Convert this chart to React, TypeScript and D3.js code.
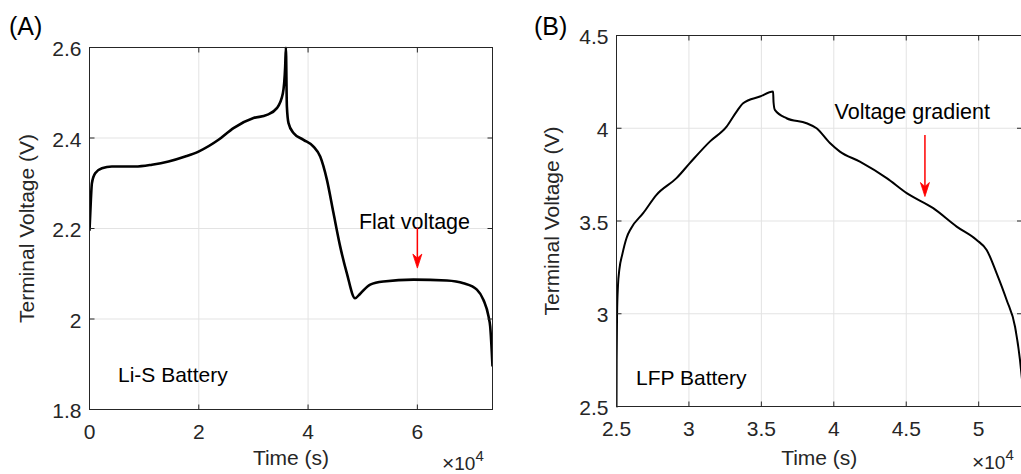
import React from "react";
import * as d3 from "d3";

// ---------- Data ----------
// Panel A: Li-S battery
const lisTime = [0, 250, 440, 1040, 2270, 4100, 8360, 11420, 14460, 17510, 19950, 23610, 26350, 30010, 32460, 34290, 35390, 35810, 35940, 36120, 36420, 37330, 39160, 40990, 42220, 43440, 44650, 45880, 47100, 48600, 49540, 51370, 53800, 59290, 65400, 68440, 70890, 72100, 73020, 73330, 73750];
const lisVolt = [2.195, 2.263, 2.30, 2.322, 2.333, 2.337, 2.337, 2.341, 2.348, 2.359, 2.370, 2.396, 2.422, 2.444, 2.451, 2.466, 2.499, 2.558, 2.60, 2.47, 2.433, 2.411, 2.396, 2.381, 2.359, 2.308, 2.234, 2.160, 2.101, 2.046, 2.056, 2.076, 2.083, 2.087, 2.085, 2.079, 2.065, 2.042, 2.006, 1.983, 1.895];

// Panel B: LFP battery
const lfpTime = [25000, 25010, 25040, 25100, 25200, 25400, 25700, 26000, 26840, 27760, 29140, 30060, 31440, 32600, 33290, 33740, 34900, 35810, 35840, 35930, 36740, 38120, 38810, 39730, 40420, 41800, 43650, 45030, 46860, 48480, 49860, 50550, 51240, 51930, 52510, 52850, 53000];
const lfpVolt = [2.48, 2.75, 3.0, 3.15, 3.24, 3.32, 3.41, 3.46, 3.542, 3.641, 3.731, 3.812, 3.928, 4.009, 4.09, 4.135, 4.171, 4.198, 4.14, 4.099, 4.054, 4.027, 4.0, 3.92, 3.874, 3.820, 3.731, 3.650, 3.569, 3.470, 3.398, 3.344, 3.218, 3.074, 2.930, 2.751, 2.64];

// Tick values
const lisXTicks = [0, 20000, 40000, 60000];
const lisYTicks = [1.8, 2.0, 2.2, 2.4, 2.6];
const lfpXTicks = [25000, 30000, 35000, 40000, 45000, 50000];
const lfpYTicks = [2.5, 3.0, 3.5, 4.0, 4.5];

// Annotations (data coordinates)
const lisNote = { text: "Flat voltage", tx: 49300, ty: 2.2, ax: 60000, ay0: 2.2016, ay1: 2.1125 };
const lfpNote = { text: "Voltage gradient", tx: 40050, ty: 4.05, ax: 46290, ay0: 3.964, ay1: 3.632 };

const FONT = "'Liberation Sans', Arial, Helvetica, sans-serif";
const AX = "#262626";
const GRID = "#e3e3e3";

type PanelProps = {
  id: string;
  label: string;
  battery: string;
  time: number[];
  volt: number[];
  xDomain: [number, number];
  yDomain: [number, number];
  xRange: [number, number];
  yRange: [number, number];
  xTicks: number[];
  yTicks: number[];
  note: typeof lisNote;
  labelX: number;
  ylabelX: number;
  expX: number;
  expY: number;
  strokeW: number;
  batteryX: number;
  batteryY: number;
};

function fmtY(v: number) {
  return d3.format("~g")(+v.toFixed(2));
}

function Panel(p: PanelProps) {
  const x = d3.scaleLinear().domain(p.xDomain).range(p.xRange);
  const y = d3.scaleLinear().domain(p.yDomain).range(p.yRange);
  const [x0, x1] = p.xRange;
  const [y1, y0] = p.yRange; // y1 bottom, y0 top
  const pts: [number, number][] = p.time.map((t, i) => [t, p.volt[i]]);
  const line = d3
    .line<[number, number]>()
    .x((d) => x(d[0]))
    .y((d) => y(d[1]))
    .curve(d3.curveMonotoneX);
  const tl = 5;
  const n = p.note;
  const tipY = y(n.ay1);
  const ax = x(n.ax);
  return (
    <g>
      <defs>
        <clipPath id={`clip-${p.id}`}>
          <rect x={x0} y={y0 - 1} width={x1 - x0} height={y1 - y0 + 2} />
        </clipPath>
      </defs>
      {/* grid */}
      {p.xTicks.filter((t) => x(t) > x0 + 1 && x(t) < x1 - 1).map((t) => (
        <line key={"gx" + t} x1={x(t)} x2={x(t)} y1={y0} y2={y1} stroke={GRID} strokeWidth={1} />
      ))}
      {p.yTicks.filter((t) => y(t) > y0 + 1 && y(t) < y1 - 1).map((t) => (
        <line key={"gy" + t} x1={x0} x2={x1} y1={y(t)} y2={y(t)} stroke={GRID} strokeWidth={1} />
      ))}
      {/* curve */}
      <path d={line(pts) || ""} fill="none" stroke="#000" strokeWidth={p.strokeW} strokeLinejoin="round" clipPath={`url(#clip-${p.id})`} />
      {/* box */}
      <rect x={x0} y={y0} width={x1 - x0} height={y1 - y0} fill="none" stroke={AX} strokeWidth={1} />
      {/* ticks */}
      {p.xTicks.map((t) => (
        <g key={"tx" + t}>
          <line x1={x(t)} x2={x(t)} y1={y1} y2={y1 - tl} stroke={AX} />
          <line x1={x(t)} x2={x(t)} y1={y0} y2={y0 + tl} stroke={AX} />
          <text x={x(t)} y={y1 + 29} textAnchor="middle" fontSize={21} fill={AX} fontFamily={FONT}>
            {fmtY(t / 10000)}
          </text>
        </g>
      ))}
      {p.yTicks.map((t) => (
        <g key={"ty" + t}>
          <line x1={x0} x2={x0 + tl} y1={y(t)} y2={y(t)} stroke={AX} />
          <line x1={x1} x2={x1 - tl} y1={y(t)} y2={y(t)} stroke={AX} />
          <text x={x0 - 8} y={y(t) + 8.5} textAnchor="end" fontSize={21} fill={AX} fontFamily={FONT}>
            {fmtY(t)}
          </text>
        </g>
      ))}
      {/* exponent */}
      <text x={p.expX} y={p.expY} fontSize={19} fill={AX} fontFamily={FONT}>
        <tspan fontSize={21}>×</tspan>
        <tspan>10</tspan>
        <tspan fontSize={15} dy={-9}>4</tspan>
      </text>
      {/* axis labels */}
      <text x={(x0 + x1) / 2} y={465} textAnchor="middle" fontSize={21} fill={AX} fontFamily={FONT}>
        Time (s)
      </text>
      <text
        transform={`translate(${p.ylabelX},${(y0 + y1) / 2}) rotate(-90)`}
        textAnchor="middle"
        fontSize={21}
        fill={AX}
        fontFamily={FONT}
      >
        Terminal Voltage (V)
      </text>
      {/* panel label */}
      <text x={p.labelX} y={35} fontSize={25} fill="#000" fontFamily={FONT}>
        {p.label}
      </text>
      {/* battery label */}
      <text x={p.batteryX} y={p.batteryY} fontSize={21} fill="#000" fontFamily={FONT}>
        {p.battery}
      </text>
      {/* annotation */}
      <text x={x(n.tx)} y={y(n.ty)} fontSize={21.5} fill="#000" fontFamily={FONT}>
        {n.text}
      </text>
      <line x1={ax} x2={ax} y1={y(n.ay0)} y2={tipY - 6} stroke="#ff0000" strokeWidth={1.5} />
      <path
        d={`M${ax},${tipY} L${ax - 4.5},${tipY - 14} L${ax},${tipY - 10} L${ax + 4.5},${tipY - 14} Z`}
        fill="#ff0000"
        stroke="#ff0000"
        strokeWidth={0.8}
      />
    </g>
  );
}

export default function App() {
  return (
    <svg
      width={1021}
      height={474}
      style={{ position: "absolute", left: 0, top: 0, background: "#fff", display: "block" }}
    >
      <rect x={0} y={0} width={1021} height={474} fill="#fff" />
      <Panel
        id="a"
        label="(A)"
        battery="Li-S Battery"
        time={lisTime}
        volt={lisVolt}
        xDomain={[0, 73750]}
        yDomain={[1.8, 2.6]}
        xRange={[89.5, 492.5]}
        yRange={[409.5, 47.5]}
        xTicks={lisXTicks}
        yTicks={lisYTicks}
        note={lisNote}
        labelX={9}
        ylabelX={34}
        expX={442}
        expY={470}
        strokeW={2.6}
        batteryX={118}
        batteryY={382}
      />
      <Panel
        id="b"
        label="(B)"
        battery="LFP Battery"
        time={lfpTime}
        volt={lfpVolt}
        xDomain={[25000, 52990]}
        yDomain={[2.5, 4.5]}
        xRange={[616.5, 1022]}
        yRange={[406.5, 35.5]}
        xTicks={lfpXTicks}
        yTicks={lfpYTicks}
        note={lfpNote}
        labelX={534}
        ylabelX={559}
        expX={972}
        expY={469}
        strokeW={2}
        batteryX={636}
        batteryY={385}
      />
    </svg>
  );
}
